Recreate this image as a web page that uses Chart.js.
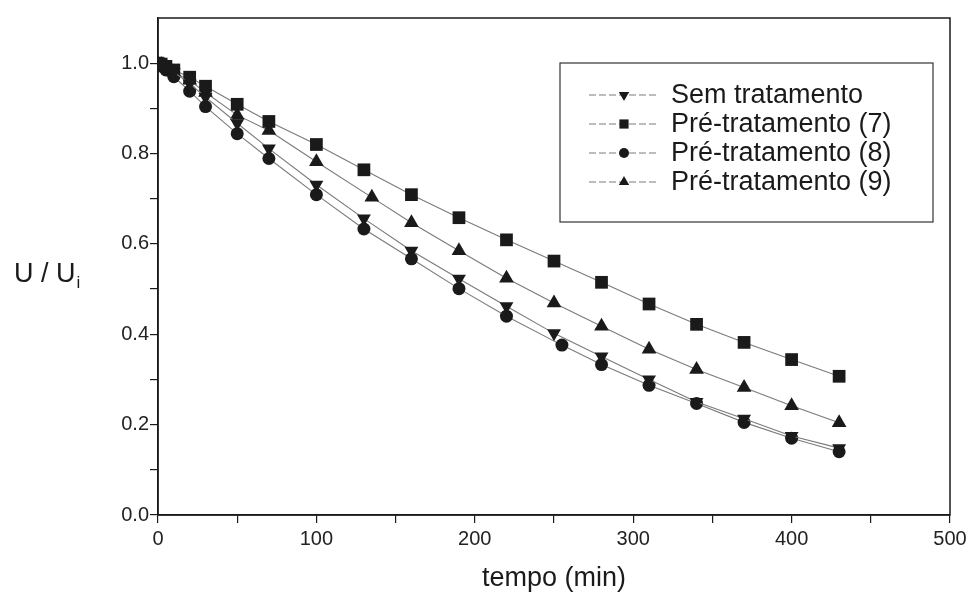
<!DOCTYPE html>
<html>
<head>
<meta charset="utf-8">
<script src="https://cdn.jsdelivr.net/npm/chart.js@4"></script>
<style>
  html, body { margin: 0; padding: 0; background: #fff; }
  #wrap { width: 979px; height: 601px; position: relative; }
</style>
</head>
<body>
<div id="wrap"><canvas id="chart"></canvas></div>
<script>
// tempo (min) for each series
const tempoSem = [0, 2, 5, 10, 20, 30, 50, 70, 100, 130, 160, 190, 220, 250, 280, 310, 340, 370, 400, 430];
const tempo7   = [0, 2, 5, 10, 20, 30, 50, 70, 100, 130, 160, 190, 220, 250, 280, 310, 340, 370, 400, 430];
const tempo8   = [0, 2, 5, 10, 20, 30, 50, 70, 100, 130, 160, 190, 220, 255, 280, 310, 340, 370, 400, 430];
const tempo9   = [0, 2, 5, 10, 20, 30, 50, 70, 100, 135, 160, 190, 220, 250, 280, 310, 340, 370, 400, 430];

// U / Ui
const semTratamento = [1.0, 0.998, 0.99, 0.98, 0.955, 0.925, 0.867, 0.811, 0.731, 0.656, 0.585, 0.523, 0.462, 0.402, 0.351, 0.300, 0.250, 0.213, 0.175, 0.148];
const preTrat7      = [1.0, 0.998, 0.993, 0.985, 0.969, 0.949, 0.909, 0.871, 0.820, 0.764, 0.709, 0.658, 0.609, 0.562, 0.515, 0.467, 0.422, 0.382, 0.344, 0.307];
const preTrat8      = [1.0, 0.995, 0.985, 0.970, 0.938, 0.904, 0.844, 0.789, 0.709, 0.633, 0.567, 0.501, 0.440, 0.376, 0.333, 0.287, 0.247, 0.205, 0.170, 0.140];
const preTrat9      = [1.0, 0.997, 0.990, 0.980, 0.962, 0.935, 0.885, 0.851, 0.782, 0.703, 0.647, 0.585, 0.524, 0.469, 0.418, 0.367, 0.322, 0.282, 0.242, 0.204];

const seriesNames = ['Sem tratamento', 'Pré-tratamento (7)', 'Pré-tratamento (8)', 'Pré-tratamento (9)'];

const xTickLabels = [0, 100, 200, 300, 400, 500];
const yTickLabels = [0.0, 0.2, 0.4, 0.6, 0.8, 1.0];

const FONT = '"Liberation Sans", Arial, sans-serif';
const INK = '#1a1a1a';
const LINE = '#7a7a7a';

function pts(xs, ys) {
    return xs.map((x, i) => ({ x: x, y: ys[i] }));
}

function makeSet(label, xs, ys, style, rot, r) {
    return {
        label: label,
        data: pts(xs, ys),
        showLine: true,
        borderColor: LINE,
        borderWidth: 1.1,
        pointStyle: style,
        rotation: rot,
        pointRadius: r,
        pointBackgroundColor: INK,
        pointBorderColor: INK,
        pointBorderWidth: 0,
        tension: 0
    };
}

const datasets = [
    makeSet(seriesNames[0], tempoSem, semTratamento, 'triangle', 180, 8),
    makeSet(seriesNames[1], tempo7, preTrat7, 'rect', 0, 9),
    makeSet(seriesNames[2], tempo8, preTrat8, 'circle', 0, 6.5),
    makeSet(seriesNames[3], tempo9, preTrat9, 'triangle', 0, 8.5)
];

const legendStyles = [['triangle', 180, 6], ['rect', 0, 6.5], ['circle', 0, 5], ['triangle', 0, 6]];

const frameAndLabels = {
    id: 'frameAndLabels',
    afterDraw(chart) {
        const ctx = chart.ctx;
        const a = chart.chartArea;
        ctx.save();
        // plot frame
        ctx.strokeStyle = INK;
        ctx.lineWidth = 1.5;
        ctx.strokeRect(a.left, a.top, a.right - a.left, a.bottom - a.top);

        // axis titles
        ctx.fillStyle = INK;
        ctx.font = '27px ' + FONT;
        ctx.textAlign = 'center';
        ctx.textBaseline = 'alphabetic';
        ctx.fillText('tempo (min)', (a.left + a.right) / 2, 586);

        ctx.textAlign = 'left';
        const main = 'U / U';
        ctx.fillText(main, 14, 282);
        const w = ctx.measureText(main).width;
        ctx.font = '17px ' + FONT;
        ctx.fillText('i', 14 + w + 1, 288);

        // legend box
        const bx = 560, by = 63, bw = 373, bh = 159;
        ctx.fillStyle = '#fff';
        ctx.fillRect(bx, by, bw, bh);
        ctx.strokeStyle = '#333';
        ctx.lineWidth = 1.2;
        ctx.strokeRect(bx, by, bw, bh);
        const rows = [95, 124, 153, 182];
        ctx.font = '27px ' + FONT;
        ctx.textBaseline = 'middle';
        seriesNames.forEach((name, i) => {
            const y = rows[i];
            ctx.strokeStyle = LINE;
            ctx.lineWidth = 1;
            ctx.setLineDash([7, 3]);
            ctx.beginPath();
            ctx.moveTo(589, y);
            ctx.lineTo(658, y);
            ctx.stroke();
            ctx.setLineDash([]);
            ctx.fillStyle = INK;
            ctx.strokeStyle = INK;
            Chart.helpers.drawPoint(ctx, {
                pointStyle: legendStyles[i][0],
                rotation: legendStyles[i][1],
                radius: legendStyles[i][2],
                borderWidth: 0
            }, 624, y);
            ctx.fillStyle = INK;
            ctx.fillText(name, 671, y + 1);
        });
        ctx.restore();
    }
};

new Chart(document.getElementById('chart'), {
    type: 'scatter',
    data: { datasets: datasets },
    options: {
        responsive: true,
        maintainAspectRatio: false,
        animation: false,
        layout: { padding: { top: 18, right: 29, left: 0, bottom: 0 } },
        plugins: {
            legend: { display: false },
            tooltip: { enabled: false }
        },
        scales: {
            x: {
                type: 'linear',
                min: 0,
                max: 500,
                afterFit(scale) { scale.height = 86; },
                border: { display: true, color: INK, width: 1.5 },
                grid: { drawOnChartArea: false, drawTicks: true, tickLength: 8, color: INK, lineWidth: 1.2 },
                ticks: {
                    stepSize: 50,
                    padding: 4,
                    color: '#222',
                    font: { family: FONT, size: 20 },
                    maxRotation: 0,
                    autoSkip: false,
                    callback: (v) => xTickLabels.includes(v) ? String(v) : ''
                }
            },
            y: {
                type: 'linear',
                min: 0,
                max: 1.1,
                afterFit(scale) { scale.width = 158; },
                border: { display: true, color: INK, width: 1.5 },
                grid: {
                    drawOnChartArea: false, drawTicks: true, tickLength: 8, lineWidth: 1.2,
                    color: (c) => (c.tick && c.tick.value > 1.05) ? 'rgba(0,0,0,0)' : INK
                },
                ticks: {
                    stepSize: 0.1,
                    padding: 1,
                    color: '#222',
                    font: { family: FONT, size: 20 },
                    autoSkip: false,
                    callback: (v) => {
                        const k = Math.round(v * 10);
                        const match = yTickLabels.find(t => Math.round(t * 10) === k);
                        return match !== undefined ? match.toFixed(1) : '';
                    }
                }
            }
        }
    },
    plugins: [frameAndLabels]
});
</script>
</body>
</html>
